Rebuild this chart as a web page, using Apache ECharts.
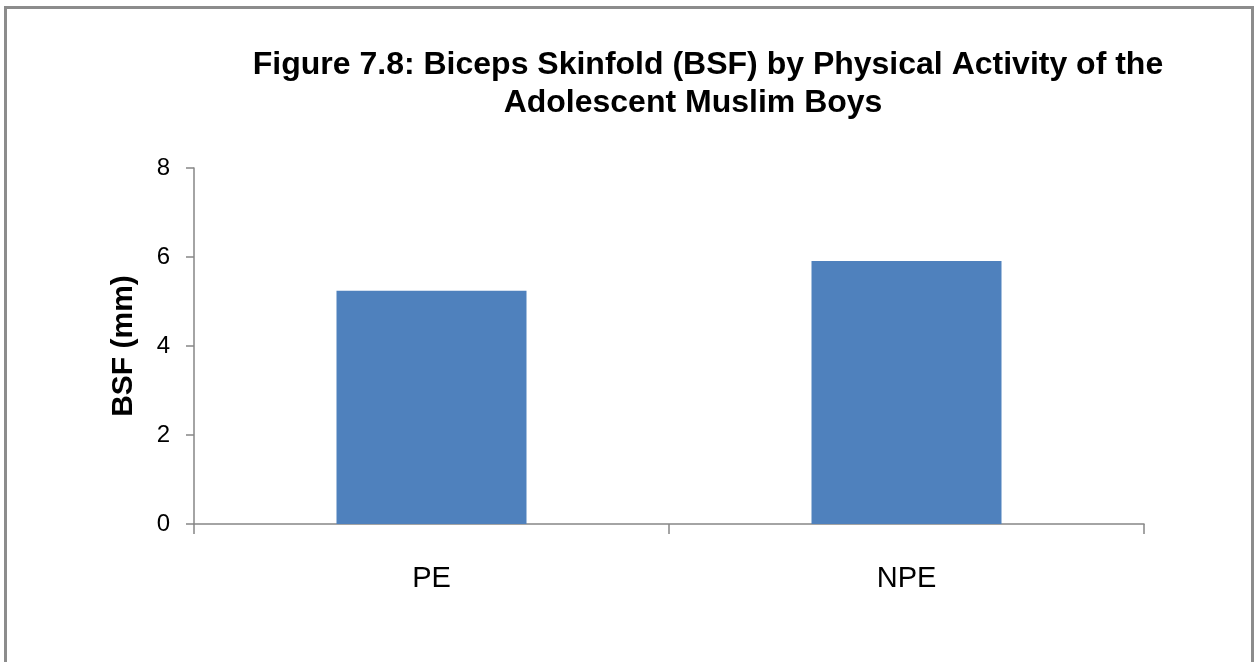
<!DOCTYPE html>
<html>
<head>
<meta charset="utf-8">
<script src="https://cdn.jsdelivr.net/npm/echarts@6/dist/echarts.min.js"></script>
<style>
  html, body { margin: 0; padding: 0; background: #fff; }
  #chart-container { width: 1256px; height: 662px; }
</style>
</head>
<body>
<div id="chart-container"></div>
<script>
const categories = ["PE", "NPE"];
const bsfValues = [5.24, 5.91];
const yTicks = [0, 2, 4, 6, 8];
const titleLines = [
  "Figure 7.8: Biceps Skinfold (BSF) by Physical Activity of the",
  "Adolescent Muslim Boys",
];

const dom = document.getElementById("chart-container");
const myChart = echarts.init(dom, null, { renderer: "canvas" });

const axisGray = "#868686";
const font = "Liberation Sans, Arial, sans-serif";

const option = {
  backgroundColor: "#fff",
  animation: false,
  title: [
    {
      text: titleLines[0],
      left: 703,
      top: 44,
      textAlign: "center",
      textStyle: { fontFamily: font, fontSize: 32, fontWeight: "bold", color: "#000" },
    },
    {
      text: titleLines[1],
      left: 688,
      top: 82,
      textAlign: "center",
      textStyle: { fontFamily: font, fontSize: 32, fontWeight: "bold", color: "#000" },
    },
  ],
  graphic: [
    {
      type: "rect",
      shape: { x: 5.5, y: 7.5, width: 1247, height: 700 },
      style: { fill: "none", stroke: "#8c8c8c", lineWidth: 3 },
      silent: true,
    },
  ],
  grid: {
    left: 194,
    right: 112,
    top: 168,
    bottom: 138,
  },
  xAxis: {
    type: "category",
    data: categories,
    axisLine: { lineStyle: { color: axisGray, width: 1.5 } },
    axisTick: { show: true, length: 10, lineStyle: { color: axisGray, width: 1.5 } },
    axisLabel: { fontFamily: font, fontSize: 29, color: "#000", margin: 40 },
  },
  yAxis: {
    type: "value",
    min: yTicks[0],
    max: yTicks[yTicks.length - 1],
    interval: 2,
    name: "BSF (mm)",
    nameLocation: "middle",
    nameGap: 55,
    nameTextStyle: { fontFamily: font, fontSize: 30, fontWeight: "bold", color: "#000" },
    axisLine: { show: true, lineStyle: { color: axisGray, width: 1.5 } },
    axisTick: { show: true, length: 8, lineStyle: { color: axisGray, width: 1.5 } },
    axisLabel: { fontFamily: font, fontSize: 24, color: "#000", margin: 24 },
    splitLine: { show: false },
  },
  series: [
    {
      type: "bar",
      data: bsfValues,
      barWidth: "40%",
      itemStyle: { color: "#4F81BD" },
    },
  ],
};

myChart.setOption(option);
</script>
</body>
</html>
